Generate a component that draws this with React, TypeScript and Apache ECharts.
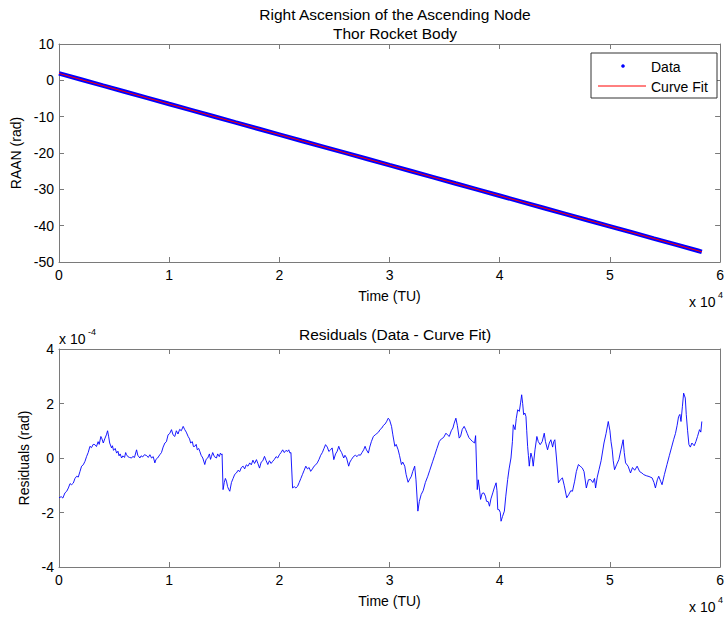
import React, { useEffect, useRef } from "react";
import * as echarts from "echarts";

// Top plot: RAAN data (time in TU, value in rad)
const dataTime = [0, 2000, 4000, 6000, 8000, 10000, 12000, 14000, 16000, 18000, 20000, 22000, 24000, 26000, 28000, 30000, 32000, 34000, 36000, 38000, 40000, 42000, 44000, 46000, 48000, 50000, 52000, 54000, 56000, 58000, 58340];
const dataRaan = [1.9, 0.22, -1.47, -3.15, -4.83, -6.52, -8.2, -9.88, -11.57, -13.25, -14.93, -16.62, -18.3, -19.98, -21.66, -23.35, -25.03, -26.71, -28.4, -30.08, -31.76, -33.45, -35.13, -36.81, -38.5, -40.18, -41.86, -43.55, -45.23, -46.91, -47.2];
// Curve fit endpoints
const fitTime = [0, 58340];
const fitRaan = [1.9, -47.2];

// Bottom plot: residuals [time (TU), residual in units of 1e-4 rad]
const residualSamples: [number, number][] = [
  [0, -1.46], [200, -1.42], [350, -1.47], [540, -1.28], [700, -1.22], [850, -1.1], [1000, -0.94], [1150, -0.98], [1300, -0.92], [1450, -0.75],
  [1600, -0.67], [1750, -0.7], [1900, -0.5], [2050, -0.3], [2200, -0.25], [2360, -0.12], [2500, 0.05], [2650, 0.2], [2810, 0.43], [2950, 0.38],
  [3100, 0.5], [3260, 0.49], [3400, 0.42], [3550, 0.6], [3650, 0.5], [3800, 0.79], [3900, 0.7], [4020, 0.55], [4150, 0.7], [4300, 0.85],
  [4410, 1.0], [4500, 0.8], [4600, 0.55], [4770, 0.37], [4850, 0.45], [4950, 0.28], [5100, 0.35], [5230, 0.18], [5350, 0.25], [5450, 0.08],
  [5550, 0.15], [5680, 0.0], [5800, 0.08], [5950, 0.02], [6050, 0.2], [6130, 0.12], [6250, 0.05], [6400, 0.02], [6590, 0.0], [6700, 0.06],
  [6850, 0.02], [7040, 0.3], [7150, 0.1], [7340, 0.0], [7450, 0.08], [7600, 0.04], [7750, 0.12], [7950, 0.09], [8100, 0.02], [8250, 0.12],
  [8400, 0.0], [8550, 0.05], [8700, -0.18], [8800, -0.05], [8950, 0.0], [9150, 0.12], [9300, 0.2], [9450, 0.4], [9610, 0.55], [9750, 0.6],
  [9900, 0.85], [10050, 0.9], [10210, 1.04], [10350, 0.85], [10510, 0.79], [10650, 1.0], [10800, 0.88], [10950, 1.05], [11100, 1.0], [11270, 1.16],
  [11400, 1.05], [11550, 0.95], [11720, 0.79], [11850, 0.7], [11950, 0.55], [12100, 0.6], [12200, 0.42], [12330, 0.43], [12450, 0.5], [12550, 0.3],
  [12680, 0.35], [12780, 0.24], [12900, 0.1], [13050, 0.0], [13230, -0.24], [13350, -0.05], [13500, 0.0], [13650, 0.15], [13750, -0.05], [13840, 0.06],
  [13950, 0.2], [14100, 0.05], [14290, 0.0], [14400, 0.15], [14550, 0.05], [14650, 0.18], [14740, 0.12], [14800, 0.15], [14890, -1.16], [15000, -0.9],
  [15100, -0.75], [15200, -0.85], [15300, -1.05], [15400, -1.15], [15500, -1.22], [15650, -0.9], [15800, -0.75], [15950, -0.6], [16100, -0.55], [16250, -0.45],
  [16400, -0.5], [16550, -0.35], [16710, -0.3], [16850, -0.4], [17000, -0.25], [17150, -0.3], [17310, -0.18], [17450, -0.25], [17600, -0.08], [17750, -0.2],
  [17920, -0.06], [18050, -0.2], [18200, -0.37], [18350, -0.15], [18500, -0.1], [18650, 0.06], [18800, -0.1], [18950, -0.24], [19100, -0.1], [19250, -0.2],
  [19400, -0.12], [19550, -0.05], [19700, 0.05], [19850, 0.0], [20000, 0.12], [20150, 0.2], [20300, 0.3], [20450, 0.2], [20600, 0.28], [20750, 0.24],
  [20850, 0.3], [20960, 0.18], [21050, 0.2], [21200, -1.1], [21350, -1.05], [21500, -1.1], [21650, -1.04], [21800, -0.9], [21950, -0.75], [22100, -0.6],
  [22250, -0.45], [22400, -0.3], [22550, -0.4], [22700, -0.35], [22840, -0.49], [23000, -0.4], [23150, -0.3], [23300, -0.25], [23440, -0.18], [23600, -0.05],
  [23750, 0.1], [23900, 0.2], [24050, 0.35], [24190, 0.49], [24350, 0.4], [24490, 0.24], [24650, 0.3], [24790, 0.37], [24940, -0.06], [25100, 0.15],
  [25250, 0.25], [25390, 0.43], [25500, 0.3], [25650, 0.2], [25840, 0.0], [25950, 0.1], [26100, 0.0], [26290, -0.3], [26400, -0.15], [26550, -0.05],
  [26740, 0.06], [26900, 0.1], [27050, 0.05], [27190, 0.12], [27350, 0.1], [27500, 0.2], [27650, 0.3], [27780, 0.43], [27900, 0.3], [28080, 0.18],
  [28200, 0.4], [28350, 0.6], [28530, 0.79], [28700, 0.85], [28850, 0.9], [29000, 0.95], [29130, 1.04], [29300, 1.1], [29450, 1.2], [29600, 1.25],
  [29750, 1.35], [29880, 1.46], [30000, 1.4], [30180, 1.16], [30300, 0.85], [30480, 0.43], [30600, 0.5], [30780, 0.3], [30900, 0.1], [31080, -0.24],
  [31200, -0.15], [31380, -0.3], [31500, -0.6], [31680, -0.89], [31800, -0.8], [31980, -0.67], [32100, -0.5], [32280, -0.3], [32400, -0.8], [32570, -1.95],
  [32700, -1.6], [32870, -1.34], [33050, -1.2], [33250, -0.9], [33470, -0.67], [33650, -0.45], [33920, -0.12], [34100, 0.1], [34300, 0.35], [34520, 0.61],
  [34700, 0.7], [34900, 0.75], [35120, 0.91], [35250, 0.85], [35420, 0.79], [35600, 1.0], [35750, 1.1], [35870, 1.28], [36020, 1.46], [36150, 1.2],
  [36320, 0.73], [36450, 0.8], [36600, 1.05], [36770, 1.16], [36900, 1.05], [37050, 0.9], [37200, 0.75], [37370, 0.67], [37550, 0.6], [37720, 0.55],
  [37810, 0.82], [37960, -1.16], [38050, -0.8], [38150, -1.1], [38260, -1.52], [38400, -1.3], [38560, -1.28], [38700, -1.4], [38800, -1.59], [38950, -1.6],
  [39070, -1.77], [39200, -1.5], [39370, -1.28], [39500, -1.1], [39670, -0.91], [39750, -1.2], [39820, -1.89], [39950, -1.9], [40050, -2.0], [40120, -2.32],
  [40250, -2.15], [40420, -1.95], [40550, -1.4], [40720, -0.79], [40850, -0.4], [41020, 0.0], [41150, 0.6], [41230, 1.22], [41390, 1.04], [41500, 1.45],
  [41630, 1.77], [41780, 1.71], [41900, 2.05], [41990, 2.32], [42080, 2.0], [42170, 1.59], [42280, 1.65], [42380, 1.52], [42450, 1.0], [42530, 0.43],
  [42600, 0.1], [42680, -0.3], [42750, -0.05], [42830, 0.18], [42950, 0.0], [43040, -0.3], [43200, 0.3], [43370, 0.79], [43500, 0.6], [43670, 0.49],
  [43850, 0.6], [44040, 0.91], [44150, 0.6], [44340, 0.3], [44500, 0.55], [44640, 0.67], [44800, 0.4], [44900, 0.6], [45000, 0.67], [45150, 0.0],
  [45330, -0.91], [45500, -0.8], [45690, -0.73], [45850, -1.0], [46080, -1.46], [46250, -1.35], [46450, -1.2], [46600, -1.22], [46800, -0.85], [46950, -0.5],
  [47140, -0.24], [47300, -0.3], [47500, -0.37], [47650, -0.5], [47860, -1.1], [48050, -0.8], [48250, -0.79], [48450, -0.9], [48600, -0.75], [48700, -1.1],
  [48850, -0.7], [49010, -0.43], [49200, -0.1], [49460, 0.55], [49650, 0.9], [49850, 1.34], [50000, 1.0], [50100, 0.6], [50210, 0.3], [50300, -0.1],
  [50420, -0.43], [50600, -0.25], [50810, -0.06], [51000, 0.3], [51200, 0.67], [51300, 0.2], [51420, -0.18], [51650, -0.3], [51870, -0.55], [52050, -0.35],
  [52250, -0.45], [52470, -0.3], [52700, -0.5], [52900, -0.55], [53070, -0.61], [53300, -0.65], [53550, -0.68], [53830, -0.73], [54000, -0.9], [54130, -1.1],
  [54300, -0.8], [54430, -0.67], [54600, -0.85], [54730, -0.98], [54950, -0.6], [55180, -0.24], [55400, 0.1], [55600, 0.4], [55780, 0.67], [55950, 0.9],
  [56100, 1.2], [56230, 1.52], [56350, 1.6], [56450, 1.34], [56580, 1.9], [56690, 2.38], [56840, 2.2], [56930, 1.59], [57050, 1.0], [57170, 0.49],
  [57300, 0.4], [57440, 0.55], [57650, 0.45], [57800, 0.6], [57950, 0.79], [58130, 1.04], [58250, 0.95], [58340, 1.34],
];

const xTicks = { min: 0, max: 60000, interval: 10000 };
const topY = { min: -50, max: 10, interval: 10 };
const botY = { min: -4, max: 4, interval: 2 };

const FONT = "'Liberation Sans', Arial, sans-serif";
const AXIS_COLOR = "#7a7a7a";

function zip(a: number[], b: number[]) {
  return a.map((v, i) => [v, b[i]]);
}

export default function App() {
  const ref = useRef<HTMLDivElement>(null);
  useEffect(() => {
    document.body.style.margin = "0";
    if (!ref.current) return;
    const chart = echarts.init(ref.current, undefined, { renderer: "svg" });

    const grids = [
      { left: 59, top: 44, width: 663, height: 218 },
      { left: 59, top: 349, width: 663, height: 218 },
    ];

    const axisLine = { show: true, onZero: false, lineStyle: { color: AXIS_COLOR, width: 1 } };
    const axisTick = { show: true, inside: true, length: 5, lineStyle: { color: AXIS_COLOR } };
    const lbl = { color: "#000", fontSize: 14, fontFamily: FONT };

    const mkX = (gi: number, mirror: boolean) => ({
      type: "value",
      gridIndex: gi,
      position: mirror ? "top" : "bottom",
      ...xTicks,
      axisLine,
      axisTick,
      splitLine: { show: false },
      axisLabel: mirror
        ? { show: false }
        : { ...lbl, margin: 6, formatter: (v: number) => String(v / 10000) },
      name: mirror ? "" : "Time (TU)",
      nameLocation: "middle",
      nameGap: 27,
      nameTextStyle: { ...lbl },
    });

    const mkY = (gi: number, mirror: boolean, ext: any, name: string, gap: number) => ({
      type: "value",
      gridIndex: gi,
      position: mirror ? "right" : "left",
      ...ext,
      axisLine,
      axisTick,
      splitLine: { show: false },
      axisLabel: mirror ? { show: false } : { ...lbl, margin: 5 },
      name: mirror ? "" : name,
      nameLocation: "middle",
      nameGap: gap,
      nameRotate: 90,
      nameTextStyle: { ...lbl },
    });

    const titleStyle = { fontSize: 15.5, fontWeight: "normal", color: "#000", fontFamily: FONT };
    const txt = (x: number, y: number, text: string, size = 14) => ({
      type: "text",
      x,
      y,
      style: { text, fontSize: size, fontFamily: FONT, fill: "#000", verticalAlign: "middle" },
      z: 101,
    });

    chart.setOption({
      animation: false,
      backgroundColor: "#fff",
      textStyle: { fontFamily: FONT },
      title: [
        { text: "Right Ascension of the Ascending Node", left: 390, top: 1, textAlign: "center", textStyle: titleStyle },
        { text: "Thor Rocket Body", left: 390, top: 20, textAlign: "center", textStyle: titleStyle },
        { text: "Residuals (Data - Curve Fit)", left: 390, top: 321, textAlign: "center", textStyle: titleStyle },
      ],
      grid: grids,
      xAxis: [mkX(0, false), mkX(0, true), mkX(1, false), mkX(1, true)],
      yAxis: [
        mkY(0, false, topY, "RAAN (rad)", 34),
        mkY(0, true, topY, "", 0),
        mkY(1, false, botY, "Residuals (rad)", 26),
        mkY(1, true, botY, "", 0),
      ],
      series: [
        {
          name: "Data",
          type: "line",
          xAxisIndex: 0,
          yAxisIndex: 0,
          data: zip(dataTime, dataRaan),
          showSymbol: false,
          lineStyle: { color: "#0000ff", width: 4.5 },
          z: 2,
        },
        {
          name: "Curve Fit",
          type: "line",
          xAxisIndex: 0,
          yAxisIndex: 0,
          data: zip(fitTime, fitRaan),
          showSymbol: false,
          lineStyle: { color: "#ff0000", width: 1 },
          z: 3,
        },
        {
          name: "Residuals",
          type: "line",
          xAxisIndex: 2,
          yAxisIndex: 2,
          data: residualSamples,
          showSymbol: false,
          lineStyle: { color: "#0000ff", width: 0.9 },
        },
      ],
      graphic: [
        {
          type: "rect",
          shape: { x: 591, y: 53, width: 126, height: 45 },
          style: { fill: "#fff", stroke: "#333", lineWidth: 1 },
          z: 100,
        },
        { type: "circle", shape: { cx: 623, cy: 66, r: 1.8 }, style: { fill: "#0000ff" }, z: 101 },
        { type: "line", shape: { x1: 598, y1: 86, x2: 646, y2: 86 }, style: { stroke: "#ff0000", lineWidth: 1 }, z: 101 },
        txt(651, 67, "Data"),
        txt(651, 87, "Curve Fit"),
        txt(689, 302, "x 10"),
        txt(718, 295, "4", 9),
        txt(689, 607, "x 10"),
        txt(718, 600, "4", 9),
        txt(59, 339, "x 10"),
        txt(88, 332, "-4", 9),
      ],
    });
    return () => chart.dispose();
  }, []);
  return <div ref={ref} style={{ width: 727, height: 619 }} />;
}
